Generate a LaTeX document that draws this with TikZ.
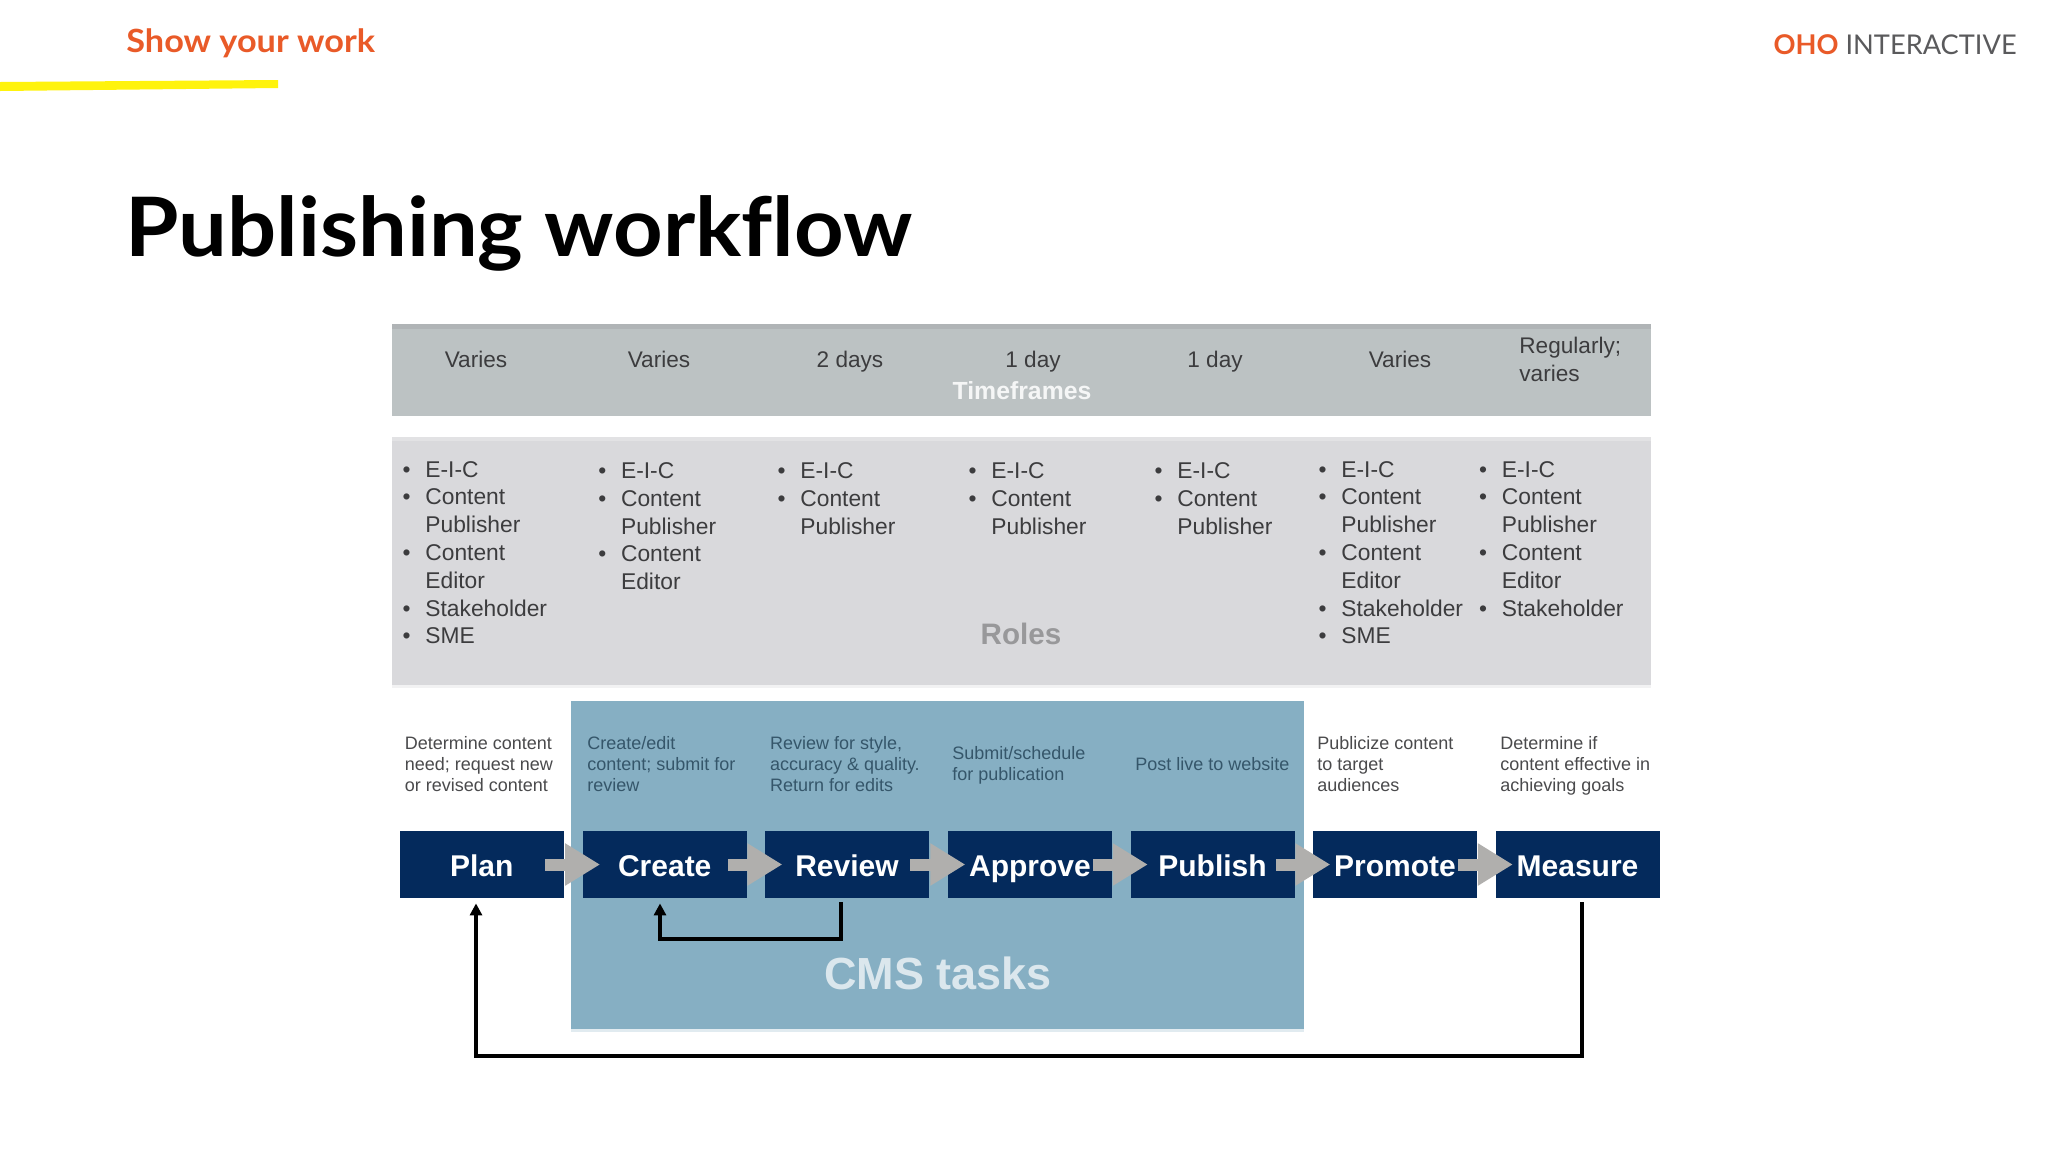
\documentclass[tikz,border=0pt]{standalone}
\usepackage{fontspec}
\setmainfont{Liberation Sans}
\newfontfamily\headfont{Lato}
\usetikzlibrary{arrows.meta,calc}
\definecolor{oho}{HTML}{E95A28}
\definecolor{ohogray}{HTML}{5A5A5C}
\definecolor{barA}{HTML}{BCC2C3}
\definecolor{barAtop}{HTML}{B0B4B6}
\definecolor{barB}{HTML}{D9D9DC}
\definecolor{barBtop}{HTML}{E2E2E4}
\definecolor{teal}{HTML}{86AFC3}
\definecolor{navy}{HTML}{042A5C}
\definecolor{arrowgray}{HTML}{B0AFAD}
\definecolor{txtA}{HTML}{3C3C3E}
\definecolor{descA}{HTML}{4A4A4C}
\definecolor{descB}{HTML}{35566A}
\newcommand{\ri}[1]{\hbox{\llap{\textbullet\hspace{7.4pt}}#1}}
\newcommand{\rc}[1]{\hbox{#1}}
\tikzset{
  stepbox/.style={fill=navy,text=white,inner sep=0pt,minimum width=82pt,minimum height=33.5pt,text height=12.4pt,text depth=0pt,font=\fontsize{15}{18}\selectfont\bfseries},
  flow/.style={line width=6pt,arrowgray,shorten <=-9.5pt,shorten >=-8.85pt,-{Triangle[length=17.5pt,width=20pt]}},
  back/.style={line width=2pt,black,line join=miter,shorten <=2pt,shorten >=2.5pt,-{Triangle[length=6pt,width=6pt]}},
  times/.style={anchor=base,inner sep=0pt,text=txtA,font=\fontsize{11.3}{14}\selectfont},
  rolelist/.style={anchor=base west,inner sep=0pt,text=txtA,font=\fontsize{11.4}{13.9}\selectfont},
  desc/.style={anchor=base west,inner sep=0pt,font=\fontsize{9}{10.7}\selectfont},
  descout/.style={desc,text=descA},
  descin/.style={desc,text=descB},
}
\begin{document}
\begin{tikzpicture}[x=0.5pt,y=-0.5pt]
\useasboundingbox (0,0) rectangle (2048,1152);
\fill[white] (0,0) rectangle (2048,1152);
% header
\fill[yellow!95!white] (0,82) -- (278,80) -- (278,88) -- (0,91) -- cycle;
\node[anchor=base west,inner sep=0pt,text=oho,font=\headfont\fontsize{16}{20}\selectfont\bfseries] (kicker) at (126,52) {\scalebox{1.07}[1]{Show your work}};
\node[anchor=base east,inner sep=0pt,text=ohogray,font=\headfont\fontsize{13.6}{16}\selectfont] (logo) at (2017,54) {{\color{oho}\bfseries OHO} INTERACTIVE};
\node[anchor=base west,inner sep=0pt,text=black,font=\headfont\fontsize{41}{48}\selectfont\bfseries] (title) at (125,256) {\scalebox{1.055}[1]{Publishing workf\kern0pt low}};
% bands
\fill[barA] (391.5,324) rectangle (1651,416);
\fill[barAtop] (391.5,324) rectangle (1651,329);
\fill[barB!35!white] (391.5,685) rectangle (1651,688);
\fill[barB] (391.5,437) rectangle (1651,685);
\fill[barBtop] (391.5,437) rectangle (1651,441);
\fill[teal!25!white] (571,1029) rectangle (1304,1032);
\fill[teal] (571,701) rectangle (1304,1029);
% timeframes
\node[times] (t1) at (476,367) {Varies};
\node[times] (t2) at (659,367) {Varies};
\node[times] (t3) at (850,367) {2 days};
\node[times] (t4) at (1033,367) {1 day};
\node[times] (t5) at (1215,367) {1 day};
\node[times] (t6) at (1400,367) {Varies};
\node[times,anchor=base west] (t7) at (1519,353) {\vtop{\rc{Regularly;}\rc{varies}}};
\node[anchor=base,inner sep=0pt,text=white!85!barA,font=\fontsize{12.4}{14}\selectfont\bfseries] (tf) at (1022,399) {Timeframes};
% roles
\node[rolelist] (r1) at (425,477) {\vtop{\ri{E-I-C}\ri{Content}\rc{Publisher}\ri{Content}\rc{Editor}\ri{Stakeholder}\ri{SME}}};
\node[rolelist] (r2) at (620.7,478.5) {\vtop{\ri{E-I-C}\ri{Content}\rc{Publisher}\ri{Content}\rc{Editor}}};
\node[rolelist] (r3) at (800,478.5) {\vtop{\ri{E-I-C}\ri{Content}\rc{Publisher}}};
\node[rolelist] (r4) at (991,478.5) {\vtop{\ri{E-I-C}\ri{Content}\rc{Publisher}}};
\node[rolelist] (r5) at (1177,478.5) {\vtop{\ri{E-I-C}\ri{Content}\rc{Publisher}}};
\node[rolelist] (r6) at (1341,477) {\vtop{\ri{E-I-C}\ri{Content}\rc{Publisher}\ri{Content}\rc{Editor}\ri{Stakeholder}\ri{SME}}};
\node[rolelist] (r7) at (1501.5,477) {\vtop{\ri{E-I-C}\ri{Content}\rc{Publisher}\ri{Content}\rc{Editor}\ri{Stakeholder}}};
\node[anchor=base,inner sep=0pt,text=black!30!barB,font=\fontsize{14.8}{17}\selectfont\bfseries] (roles) at (1021,644) {Roles};
% descriptions
\node[descout] (d1) at (404.5,749) {\vtop{\rc{Determine content}\rc{need; request new}\rc{or revised content}}};
\node[descin] (d2) at (587,749) {\vtop{\rc{Create/edit}\rc{content; submit for}\rc{review}}};
\node[descin] (d3) at (769.6,749) {\vtop{\rc{Review for style,}\rc{accuracy \& quality.}\rc{Return for edits}}};
\node[descin] (d4) at (952,759.5) {\vtop{\rc{Submit/schedule}\rc{for publication}}};
\node[descin] (d5) at (1135,770) {Post live to website};
\node[descout] (d6) at (1317,749) {\vtop{\rc{Publicize content}\rc{to target}\rc{audiences}}};
\node[descout] (d7) at (1500,749) {\vtop{\rc{Determine if}\rc{content effective in}\rc{achieving goals}}};
% steps
\node[stepbox] (plan) at (481.75,864.5) {Plan};
\node[stepbox] (create) at (664.75,864.5) {Create};
\node[stepbox] (review) at (847,864.5) {Review};
\node[stepbox] (approve) at (1030,864.5) {Approve};
\node[stepbox] (publish) at (1212.5,864.5) {Publish};
\node[stepbox] (promote) at (1395,864.5) {Promote};
\node[stepbox] (measure) at (1577.5,864.5) {Measure};
% flow arrows
\draw[flow] (plan.east) -- (create.west);
\draw[flow] (create.east) -- (review.west);
\draw[flow] (review.east) -- (approve.west);
\draw[flow] (approve.east) -- (publish.west);
\draw[flow] (publish.east) -- (promote.west);
\draw[flow] (promote.east) -- (measure.west);
% feedback connectors
\coordinate (revdown) at (841,939);
\coordinate (creup) at (660,939);
\coordinate (meadown) at (1582,1056);
\coordinate (plaup) at (476,1056);
\draw[back] (review.south -| revdown) -- (revdown) -- (creup) -- (create.south -| creup);
\draw[back] (measure.south -| meadown) -- (meadown) -- (plaup) -- (plan.south -| plaup);
% panel label
\node[anchor=base,inner sep=0pt,text=white!70!teal,font=\fontsize{22.5}{26}\selectfont\bfseries] (cms) at (938,989) {CMS tasks};
\end{tikzpicture}
\end{document}
